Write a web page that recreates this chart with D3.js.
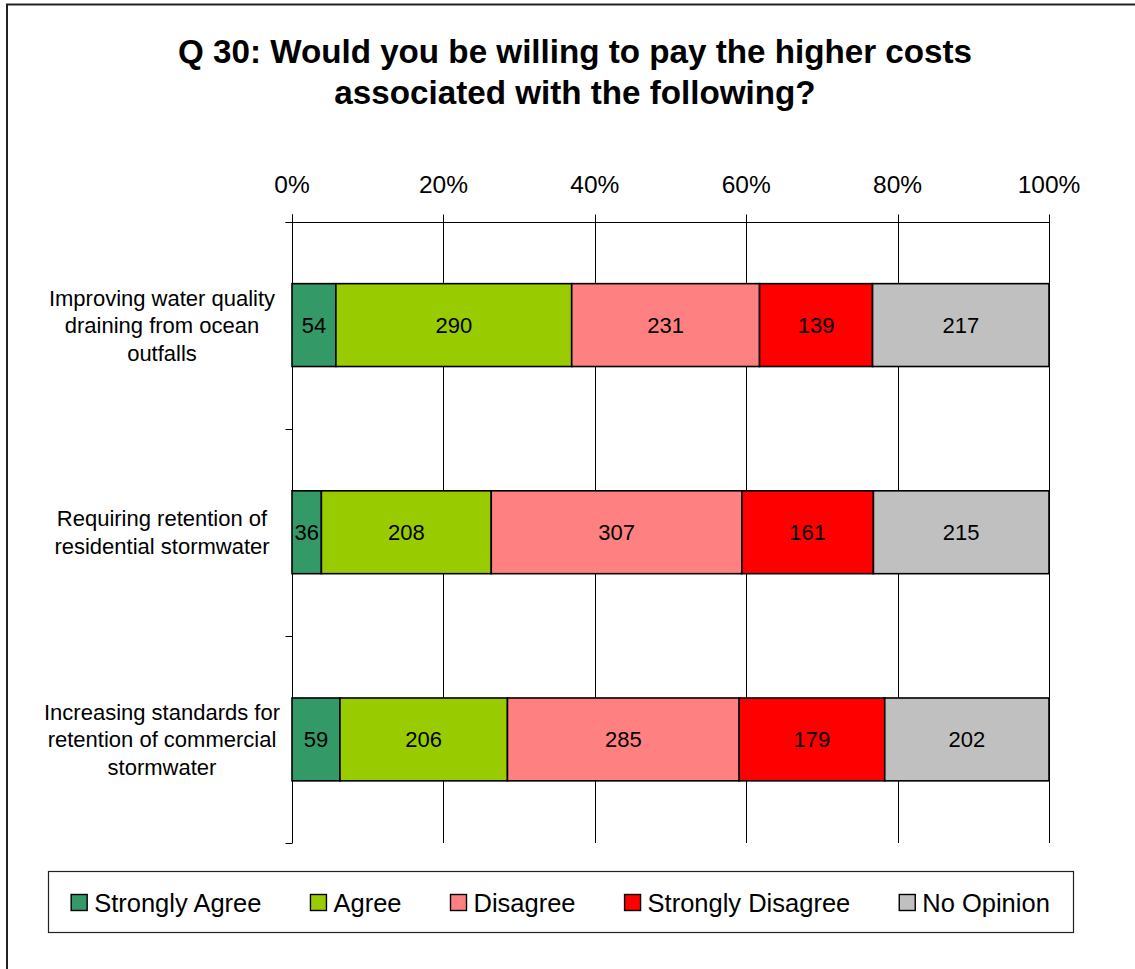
<!DOCTYPE html>
<html>
<head>
<meta charset="utf-8">
<script src="https://cdn.jsdelivr.net/npm/d3@7"></script>
<style>
  html, body { margin: 0; padding: 0; background: #fff; }
  svg { display: block; }
  text { font-family: "Liberation Sans", Arial, sans-serif; fill: #000; }
</style>
</head>
<body>
<svg id="chart" width="1135" height="969"></svg>
<script>
// ---- Data ----
const titleLines = ["Q 30: Would you be willing to pay the higher costs", "associated with the following?"];
const categories = [
  ["Improving water quality", "draining from ocean", "outfalls"],
  ["Requiring retention of", "residential stormwater"],
  ["Increasing standards for", "retention of commercial", "stormwater"]
];
const seriesNames = ["Strongly Agree", "Agree", "Disagree", "Strongly Disagree", "No Opinion"];
const seriesColors = ["#339966", "#99CC00", "#FF8080", "#FF0000", "#C0C0C0"];
const stronglyAgree = [54, 36, 59];
const agree = [290, 208, 206];
const disagree = [231, 307, 285];
const stronglyDisagree = [139, 161, 179];
const noOpinion = [217, 215, 202];
const tickValues = [0, 0.2, 0.4, 0.6, 0.8, 1.0];

const seriesValues = [stronglyAgree, agree, disagree, stronglyDisagree, noOpinion];

// ---- Layout ----
const svg = d3.select("#chart");
const plot = { left: 292, right: 1049, top: 221.5, bottom: 843 };

// outer frame
svg.append("rect").attr("x", 7).attr("y", 4.5).attr("width", 1140).attr("height", 980)
  .attr("fill", "none").attr("stroke", "#222").attr("stroke-width", 2);

// title
svg.append("g").selectAll("text").data(titleLines).join("text")
  .attr("x", 575).attr("y", (d, i) => 63 + i * 41)
  .attr("text-anchor", "middle").attr("font-size", 33.2).attr("font-weight", "bold")
  .text(d => d);

const x = d3.scaleLinear().domain([0, 1]).range([plot.left, plot.right]);
const yIdx = d3.scaleLinear().domain([0, categories.length]).range([plot.top, plot.bottom]);
const y = d3.scaleBand().domain(d3.range(categories.length)).range([plot.top, plot.bottom])
  .paddingInner(0.6).paddingOuter(0.3);
const px = v => Math.round(x(v)) + 0.5;
const py = v => Math.round(yIdx(v)) + 0.5;

// gridlines
svg.append("g").selectAll("line").data(tickValues.filter(v => v > 0)).join("line")
  .attr("x1", px).attr("x2", px)
  .attr("y1", plot.top).attr("y2", plot.bottom)
  .attr("stroke", "#000").attr("stroke-width", 1);

// top axis (line, ticks, labels)
const ax = svg.append("g").attr("class", "x-axis");
ax.append("line").attr("x1", px(0) - 7).attr("x2", px(1))
  .attr("y1", py(0)).attr("y2", py(0)).attr("stroke", "#000").attr("stroke-width", 1);
ax.selectAll("line.tick").data(tickValues).join("line").attr("class", "tick")
  .attr("x1", px).attr("x2", px).attr("y1", py(0) - 8).attr("y2", py(0))
  .attr("stroke", "#000").attr("stroke-width", 1);
const fmt = d3.format(".0%");
ax.selectAll("text").data(tickValues).join("text")
  .attr("x", d => x(d)).attr("y", 193)
  .attr("text-anchor", "middle").attr("font-size", 24.5)
  .text(fmt);

// left axis (line + ticks at category boundaries)
const ay = svg.append("g").attr("class", "y-axis");
ay.append("line").attr("x1", px(0)).attr("x2", px(0))
  .attr("y1", py(0) - 8).attr("y2", yIdx(categories.length))
  .attr("stroke", "#000").attr("stroke-width", 1);
ay.selectAll("line.tick").data(d3.range(categories.length + 1)).join("line").attr("class", "tick")
  .attr("x1", px(0) - 7).attr("x2", px(0)).attr("y1", py).attr("y2", py)
  .attr("stroke", "#000").attr("stroke-width", 1);

// stacked data
const rows = categories.map((c, i) => {
  const vals = seriesValues.map(s => s[i]);
  const total = d3.sum(vals);
  let acc = 0;
  return vals.map((v, k) => {
    const seg = { row: i, k, v, x0: acc / total, x1: (acc + v) / total };
    acc += v;
    return seg;
  });
});
const segs = rows.flat();

svg.append("g").selectAll("rect").data(segs).join("rect")
  .attr("x", d => x(d.x0)).attr("width", d => x(d.x1) - x(d.x0))
  .attr("y", d => y(d.row)).attr("height", y.bandwidth())
  .attr("fill", d => seriesColors[d.k])
  .attr("stroke", "#000").attr("stroke-width", 1.6);

svg.append("g").selectAll("text").data(segs).join("text")
  .attr("x", d => (x(d.x0) + x(d.x1)) / 2)
  .attr("y", d => y(d.row) + y.bandwidth() / 2)
  .attr("dy", "0.36em").attr("text-anchor", "middle").attr("font-size", 22)
  .text(d => d.v);

// category labels
const lineH = 27.5;
categories.forEach((lines, i) => {
  const cy = y(i) + y.bandwidth() / 2;
  const t = svg.append("text").attr("text-anchor", "middle").attr("font-size", 22);
  lines.forEach((ln, j) => {
    t.append("tspan").attr("x", 162)
      .attr("y", cy + (j - (lines.length - 1) / 2) * lineH)
      .attr("dy", "0.36em").text(ln);
  });
});

// legend
const leg = { x: 48, y: 871, w: 1025, h: 61 };
svg.append("rect").attr("x", leg.x + 0.5).attr("y", leg.y + 0.5).attr("width", leg.w).attr("height", leg.h)
  .attr("fill", "#fff").attr("stroke", "#222").attr("stroke-width", 1.2);
const lg = svg.append("g");
const items = seriesNames.map((n, k) => {
  const g = lg.append("g");
  g.append("rect").attr("width", 16).attr("height", 16).attr("fill", seriesColors[k])
    .attr("stroke", "#000").attr("stroke-width", 1.4);
  const t = g.append("text").attr("x", 23).attr("y", 8).attr("dy", "0.36em")
    .attr("font-size", 25.5).text(n);
  return { g, w: 23 + t.node().getComputedTextLength() };
});
const gap = 49;
const totalW = d3.sum(items, d => d.w) + gap * (items.length - 1);
let cx = leg.x + (leg.w - totalW) / 2;
items.forEach(it => {
  it.g.attr("transform", `translate(${cx},${leg.y + 23.5})`);
  cx += it.w + gap;
});
</script>
</body>
</html>
